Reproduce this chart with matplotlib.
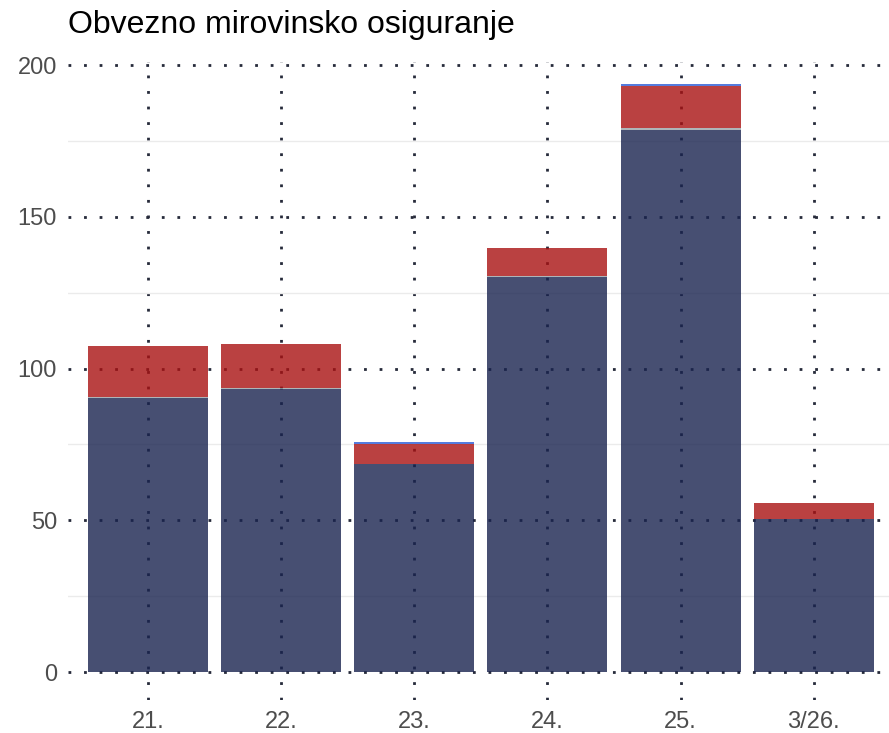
import matplotlib
matplotlib.use("Agg")
import matplotlib.pyplot as plt
import numpy as np

plt.rcParams['font.family'] = ['Liberation Sans', 'DejaVu Sans']

categories = ["21.", "22.", "23.", "24.", "25.", "3/26."]
base = [90.3, 93.3, 68.7, 130.2, 178.6, 50.4]
sep = [0.4, 0.4, 0.0, 0.4, 0.7, 0.0]
red = [16.7, 14.4, 6.6, 9.1, 13.9, 5.3]
top = [0.0, 0.0, 0.5, 0.0, 0.6, 0.0]
yticks = [0, 50, 100, 150, 200]
minor_ticks = [25, 75, 125, 175]

fig = plt.figure(figsize=(8.89, 7.33), dpi=100)
ax = fig.add_axes([68/889, 1-700/733, 1-68/889, (700-62)/733])

x = np.arange(len(categories))
w = 0.9
alpha = 0.8
b0 = np.array(base)
b1 = b0 + np.array(sep)
b2 = b1 + np.array(red)
ax.bar(x, base, w, color="#19234f", alpha=alpha, zorder=2, linewidth=0)
ax.bar(x, sep, w, bottom=b0, color="#9aa3a8", alpha=alpha, zorder=2, linewidth=0)
ax.bar(x, red, w, bottom=b1, color="#a91212", alpha=alpha, zorder=2, linewidth=0)
ax.bar(x, top, w, bottom=b2, color="#2b5bd6", alpha=alpha, zorder=2, linewidth=0)

ax.set_xlim(-0.6, 5.565)
ax.set_ylim(-9.2, 201)
ax.set_yticks(yticks)
ax.set_yticks(minor_ticks, minor=True)
ax.set_xticks(x)
ax.set_xticklabels(categories)

grid_kw = dict(color="#262a3a", linewidth=2.0, linestyle=(0, (1, 4.6)))
ax.grid(True, which="major", axis="both", zorder=1, **grid_kw)
ax.grid(True, which="minor", axis="y", color="#ebebeb", linewidth=1.0, linestyle="-", zorder=0)
ax.set_axisbelow(True)

for s in ax.spines.values():
    s.set_visible(False)
ax.tick_params(axis="both", which="both", length=0, labelsize=17, labelcolor="#4d4d4d")
ax.tick_params(axis="y", pad=8)
ax.tick_params(axis="x", pad=8)

fig.text(68/889, 1-25/733, "Obvezno mirovinsko osiguranje", fontsize=23, color="black",
         ha="left", va="center")

fig.savefig("out.png", dpi=100)
